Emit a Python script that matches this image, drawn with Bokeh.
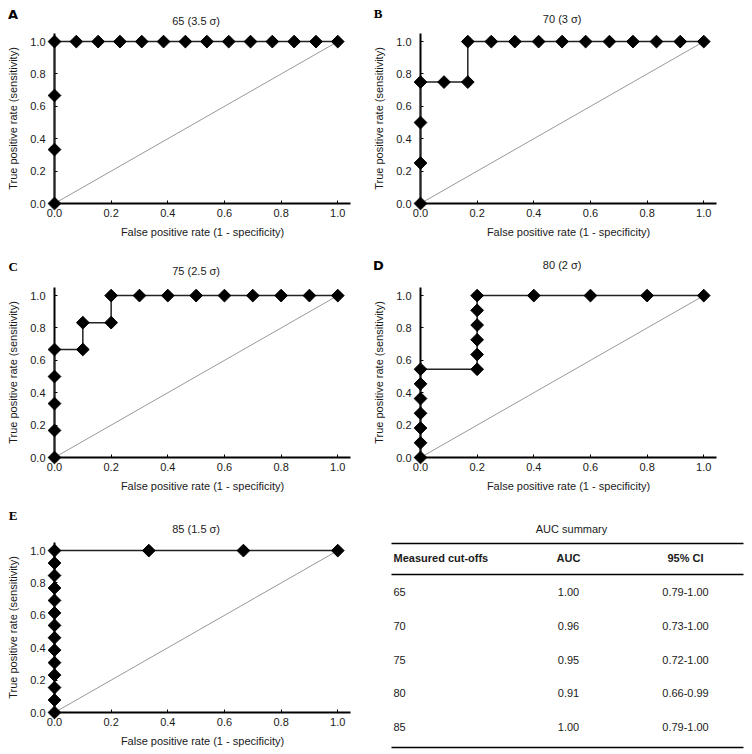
import math
from bokeh.plotting import figure
from bokeh.layouts import column, row
from bokeh.models import Range1d, FixedTicker, PrintfTickFormatter
from bokeh.embed import file_html
from bokeh.resources import INLINE
from bokeh.core.properties import value

# ---------------- data ----------------
titles = ["65 (3.5 \u03c3)", "70 (3 \u03c3)", "75 (2.5 \u03c3)", "80 (2 \u03c3)", "85 (1.5 \u03c3)"]
letters = ["A", "B", "C", "D", "E"]

a_fpr = [0, 0, 0, 0, 0.077, 0.154, 0.231, 0.308, 0.385, 0.462, 0.538, 0.615, 0.692, 0.769, 0.846, 0.923, 1.0]
a_tpr = [0, 0.333, 0.667, 1.0, 1.0, 1.0, 1.0, 1.0, 1.0, 1.0, 1.0, 1.0, 1.0, 1.0, 1.0, 1.0, 1.0]

b_fpr = [0, 0, 0, 0, 0.083, 0.167, 0.167, 0.25, 0.333, 0.417, 0.5, 0.583, 0.667, 0.75, 0.833, 0.917, 1.0]
b_tpr = [0, 0.25, 0.5, 0.75, 0.75, 0.75, 1.0, 1.0, 1.0, 1.0, 1.0, 1.0, 1.0, 1.0, 1.0, 1.0, 1.0]

c_fpr = [0, 0, 0, 0, 0, 0.1, 0.1, 0.2, 0.2, 0.3, 0.4, 0.5, 0.6, 0.7, 0.8, 0.9, 1.0]
c_tpr = [0, 0.167, 0.333, 0.5, 0.667, 0.667, 0.833, 0.833, 1.0, 1.0, 1.0, 1.0, 1.0, 1.0, 1.0, 1.0, 1.0]

d_fpr = [0, 0, 0, 0, 0, 0, 0, 0.2, 0.2, 0.2, 0.2, 0.2, 0.2, 0.4, 0.6, 0.8, 1.0]
d_tpr = [0, 0.091, 0.182, 0.273, 0.364, 0.455, 0.545, 0.545, 0.636, 0.727, 0.818, 0.909, 1.0, 1.0, 1.0, 1.0, 1.0]

e_fpr = [0, 0, 0, 0, 0, 0, 0, 0, 0, 0, 0, 0, 0, 0, 0.333, 0.667, 1.0]
e_tpr = [0, 0.077, 0.154, 0.231, 0.308, 0.385, 0.462, 0.538, 0.615, 0.692, 0.769, 0.846, 0.923, 1.0, 1.0, 1.0, 1.0]

chance_x = [0, 1]
chance_y = [0, 1]
tick_values = [0.0, 0.2, 0.4, 0.6, 0.8, 1.0]

table_title = "AUC summary"
table_headers = ["Measured cut-offs", "AUC", "95% CI"]
cutoffs = ["65", "70", "75", "80", "85"]
auc_values = ["1.00", "0.96", "0.95", "0.91", "1.00"]
ci_values = ["0.79-1.00", "0.73-1.00", "0.72-1.00", "0.66-0.99", "0.79-1.00"]

# ---------------- layout geometry (pixels) ----------------
FONT = "Liberation Sans"
TXT = "#1a1a1a"
COL_W = [370, 382]
COL_LR = [(54, 20), (49, 36)]          # left / right borders per column
ROW_H = [250, 250, 254]
ROW_TB = [(33, 47), (37, 43), (42, 42)]  # top / bottom borders per row


def make_fig(ci, ri, x_range, y_range):
    left, right = COL_LR[ci]
    top, bottom = ROW_TB[ri]
    p = figure(width=COL_W[ci], height=ROW_H[ri], x_range=x_range, y_range=y_range,
               output_backend="svg", toolbar_location=None,
               min_border_left=left, min_border_right=right,
               min_border_top=top, min_border_bottom=bottom)
    p.grid.visible = False
    p.outline_line_color = None
    p.background_fill_color = "white"
    p.border_fill_color = "white"
    return p


def roc_panel(ci, ri, title, letter, fpr, tpr, ty, letter_font, lx, ly):
    p = make_fig(ci, ri, Range1d(0, 1.045), Range1d(0, 1.05))

    for ax in (p.xaxis[0], p.yaxis[0]):
        ax.ticker = FixedTicker(ticks=tick_values)
        ax.formatter = PrintfTickFormatter(format="%.1f")
        ax.major_tick_in = 3
        ax.major_tick_out = 0
        ax.minor_tick_in = 0
        ax.minor_tick_out = 0
        ax.axis_line_width = 2
        ax.axis_line_color = "black"
        ax.major_tick_line_color = "black"
        ax.major_label_text_font = FONT
        ax.major_label_text_font_size = "11px"
        ax.major_label_text_color = TXT
        ax.axis_label_text_font = FONT
        ax.axis_label_text_font_size = "11px"
        ax.axis_label_text_font_style = "normal"
        ax.axis_label_text_color = TXT
    p.xaxis.axis_label = "False positive rate (1 - specificity)"
    p.yaxis.axis_label = "True positive rate (sensitivity)"
    p.xaxis.major_label_standoff = 5
    p.xaxis.axis_label_standoff = 6
    p.yaxis.major_label_standoff = 9
    p.yaxis.axis_label_standoff = 8

    p.line(chance_x, chance_y, line_color="#999999", line_width=1, level="overlay")
    p.line(fpr, tpr, line_color="#222222", line_width=1.5, level="overlay")
    p.scatter(fpr, tpr, marker="square", angle=math.pi / 4, size=9,
              fill_color="black", line_color="black", level="overlay")

    # panel title and panel letter
    p.text(x=[0.5], y=[ty], text=[title], text_font=value(FONT), text_font_size="11px",
           text_align="center", text_baseline="middle", text_color=TXT, level="overlay")
    p.text(x=[lx], y=[ly], text=[letter], text_font=value(letter_font),
           text_font_style="bold", text_font_size="13px", text_align="center",
           text_baseline="middle", text_color="black", level="overlay")
    return p


pA = roc_panel(0, 0, titles[0], letters[0], a_fpr, a_tpr, 1.130, "DejaVu Sans", -0.146, 1.170)
pB = roc_panel(1, 0, titles[1], letters[1], b_fpr, b_tpr, 1.142, "Liberation Serif", -0.150, 1.175)
pC = roc_panel(0, 1, titles[2], letters[2], c_fpr, c_tpr, 1.155, "Liberation Serif", -0.146, 1.180)
pD = roc_panel(1, 1, titles[3], letters[3], d_fpr, d_tpr, 1.186, "DejaVu Sans", -0.149, 1.186)
pE = roc_panel(0, 2, titles[4], letters[4], e_fpr, e_tpr, 1.136, "Liberation Serif", -0.146, 1.216)

# ---------------- table (data units = page pixels) ----------------
pT = make_fig(1, 2, Range1d(419, 716), Range1d(712, 542))
pT.xaxis.visible = False
pT.yaxis.visible = False

col_x = [393, 568, 685]
col_align = ["left", "center", "center"]
row_y = [591, 625, 659, 692, 726]

pT.text(x=[571], y=[528], text=[table_title], text_font=value(FONT), text_font_size="11px",
        text_align="center", text_baseline="middle", text_color=TXT, level="overlay")
for cx, al, h in zip(col_x, col_align, table_headers):
    pT.text(x=[cx], y=[557], text=[h], text_font=value(FONT), text_font_size="11px",
            text_font_style="bold", text_align=al, text_baseline="middle", text_color=TXT,
            level="overlay")
for cx, al, vals in zip(col_x, col_align, [cutoffs, auc_values, ci_values]):
    pT.text(x=[cx] * len(vals), y=row_y, text=vals, text_font=value(FONT), text_font_size="11px",
            text_align=al, text_baseline="middle", text_color=TXT, level="overlay")

rule_y = [543, 574, 747]
pT.segment(x0=[391] * 3, x1=[743] * 3, y0=rule_y, y1=rule_y, line_color="black",
           line_width=1.5, level="overlay")

layout = column(row(pA, pB), row(pC, pD), row(pE, pT))

with open("out.html", "w") as f:
    f.write(file_html(layout, INLINE))
